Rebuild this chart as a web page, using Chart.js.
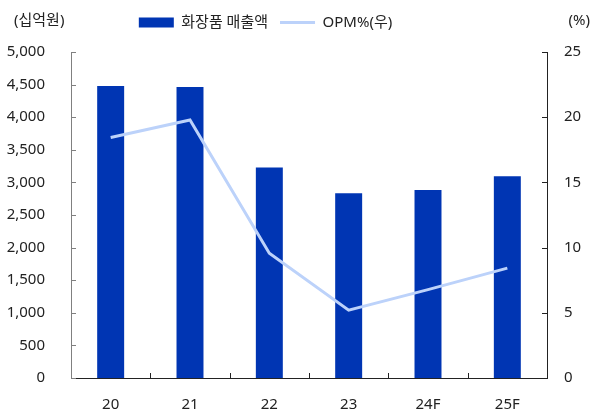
<!DOCTYPE html>
<html><head><meta charset="utf-8">
<script src="https://cdn.jsdelivr.net/npm/chart.js@4"></script>
<style>html,body{margin:0;padding:0;background:#fff}</style>
</head><body>
<canvas id="c" width="591" height="412"></canvas>
<script>
const categories = ['20', '21', '22', '23', '24F', '25F'];
const salesValues = [4480, 4465, 3230, 2833, 2884, 3093];
const opmValues = [18.45, 19.78, 9.56, 5.2, 6.78, 8.43];
const leftTicks = [0, 500, 1000, 1500, 2000, 2500, 3000, 3500, 4000, 4500, 5000];
const rightTicks = [0, 5, 10, 15, 20, 25];
const salesLabel = '화장품 매출액';
const opmLabel = 'OPM%(우)';
const leftUnit = '(십억원)';
const rightUnit = '(%)';

const FONT = "'Noto Sans', 'Noto Sans CJK KR', sans-serif";
const TEXT = '#222';
const FS = 15;

const extras = {
  id: 'extras',
  afterLayout(chart) {
    const lg = chart.legend;
    if (lg) { lg.left -= 30; lg.right -= 30; lg.top -= 12; lg.bottom -= 12; }
  },
  afterDraw(chart) {
    const ctx = chart.ctx, a = chart.chartArea;
    const { x, y, y1 } = chart.scales;
    ctx.save();
    ctx.lineWidth = 1;
    ctx.beginPath(); ctx.strokeStyle = '#808080';
    y.ticks.forEach(t => { const p = Math.round(y.getPixelForValue(t.value)) + 0.5; ctx.moveTo(a.left, p); ctx.lineTo(a.left + 5, p); });
    ctx.stroke();
    ctx.beginPath(); ctx.strokeStyle = '#222';
    y1.ticks.forEach(t => { const p = Math.round(y1.getPixelForValue(t.value)) + 0.5; ctx.moveTo(a.right, p); ctx.lineTo(a.right - 5, p); });
    for (let i = 0; i < categories.length - 1; i++) {
      const p = Math.round((x.getPixelForValue(i) + x.getPixelForValue(i + 1)) / 2) + 0.5;
      ctx.moveTo(p, a.bottom); ctx.lineTo(p, a.bottom - 5);
    }
    ctx.stroke();
    ctx.fillStyle = TEXT; ctx.font = FS + 'px ' + FONT; ctx.textBaseline = 'middle';
    ctx.textAlign = 'left'; ctx.fillText(leftUnit, 14, 21);
    ctx.textAlign = 'right'; ctx.fillText(rightUnit, 590, 21);
    ctx.restore();
  }
};

new Chart(document.getElementById('c'), {
  data: {
    labels: categories,
    datasets: [
      { type: 'line', label: opmLabel, data: opmValues, yAxisID: 'y1', borderColor: '#bcd2fa', backgroundColor: '#bcd2fa', borderWidth: 3, pointRadius: 0, pointStyle: 'line', tension: 0, order: 0 },
      { type: 'bar', label: salesLabel, data: salesValues, yAxisID: 'y', backgroundColor: '#0035b3', borderWidth: 0, pointStyle: 'rect', categoryPercentage: 1, barPercentage: 0.34, order: 1 }
    ]
  },
  options: {
    responsive: false,
    animation: false,
    layout: { padding: { top: 15, left: 0, right: 0, bottom: 0 } },
    plugins: {
      legend: {
        display: true, position: 'top',
        reverse: true,
        labels: { usePointStyle: true, pointStyleWidth: 35, boxHeight: 10, padding: 12, color: TEXT, font: { family: FONT, size: FS } }
      },
      tooltip: { enabled: false }
    },
    scales: {
      x: {
        grid: { display: false }, border: { display: true, color: '#222' },
        ticks: { color: TEXT, font: { family: FONT, size: FS }, padding: 10 },
        afterFit(s) { s.height = 34; }
      },
      y: {
        position: 'left', min: 0, max: 5000,
        grid: { display: false }, border: { display: true, color: '#808080' },
        afterBuildTicks(s) { s.ticks = leftTicks.map(v => ({ value: v })); },
        ticks: { color: TEXT, font: { family: FONT, size: FS }, padding: 18, callback: v => v.toLocaleString('en-US') },
        afterFit(s) { s.width = 71; }
      },
      y1: {
        position: 'right', min: 0, max: 25,
        grid: { display: false }, border: { display: true, color: '#222' },
        afterBuildTicks(s) { s.ticks = rightTicks.map(v => ({ value: v })); },
        ticks: { color: TEXT, font: { family: FONT, size: FS }, padding: 9 },
        afterFit(s) { s.width = 44; }
      }
    }
  },
  plugins: [extras]
});
</script>
</body></html>
